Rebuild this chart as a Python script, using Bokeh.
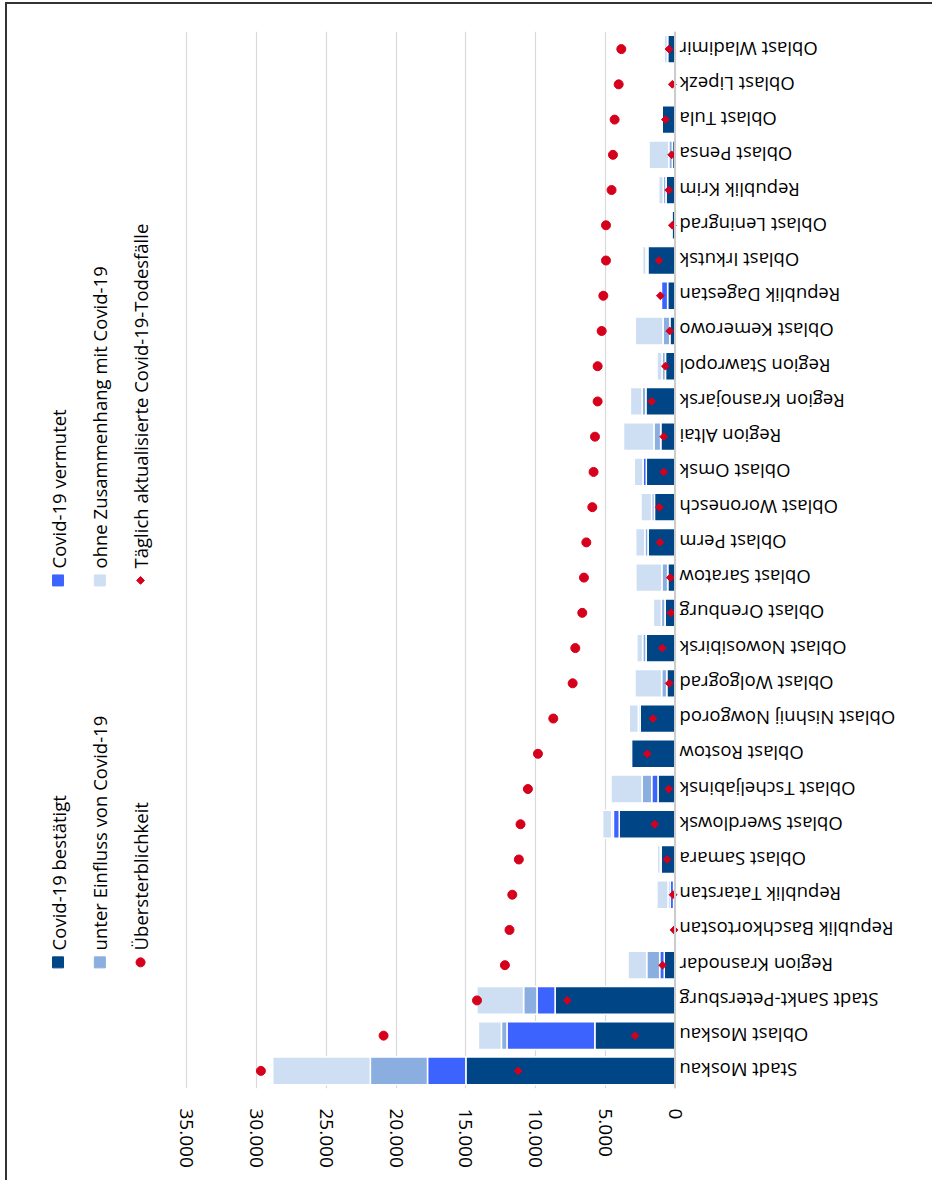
import math
from bokeh.plotting import figure
from bokeh.models import ColumnDataSource, Range1d, FixedTicker, Span
from bokeh.core.properties import value
from bokeh.embed import file_html
from bokeh.resources import INLINE

# ---- data (bottom row first) ----
regions = [
    "Stadt Moskau", "Oblast Moskau", "Stadt Sankt-Petersburg", "Region Krasnodar",
    "Republik Baschkortostan", "Republik Tatarstan", "Oblast Samara", "Oblast Swerdlowsk",
    "Oblast Tscheljabinsk", "Oblast Rostow", "Oblast Nishnij Nowgorod", "Oblast Wolgograd",
    "Oblast Nowosibirsk", "Oblast Orenburg", "Oblast Saratow", "Oblast Perm",
    "Oblast Woronesch", "Oblast Omsk", "Region Altai", "Region Krasnojarsk",
    "Region Stawropol", "Oblast Kemerowo", "Republik Dagestan", "Oblast Irkutsk",
    "Oblast Leningrad", "Republik Krim", "Oblast Pensa", "Oblast Tula",
    "Oblast Lipezk", "Oblast Wladimir",
]
confirmed = [15000, 5750, 8600, 770, 60, 100, 1000, 4000, 1220, 3130, 2510, 600, 2080, 720, 530,
             1940, 1480, 2060, 1030, 2100, 690, 380, 530, 1960, 240, 650, 190, 930, 140, 540]
suspected = [2750, 6300, 1300, 330, 0, 250, 0, 420, 450, 0, 0, 0, 0, 0, 0,
             0, 0, 240, 0, 0, 0, 0, 450, 0, 0, 0, 0, 0, 0, 0]
influenced = [4100, 400, 960, 930, 20, 150, 60, 120, 690, 0, 120, 360, 240, 260, 410,
              220, 200, 0, 480, 260, 240, 480, 0, 120, 0, 190, 260, 0, 0, 0]
unrelated = [7000, 1650, 3350, 1340, 90, 800, 210, 650, 2230, 120, 650, 1910, 420, 570, 1870,
             660, 760, 620, 2180, 840, 360, 1990, 0, 240, 0, 330, 1410, 0, 0, 240]
excess = [29700, 20900, 14200, 12200, 11870, 11670, 11200, 11080, 10550, 9830, 8730, 7340, 7150,
          6650, 6530, 6360, 5930, 5840, 5740, 5550, 5550, 5260, 5140, 4950, 4950, 4550, 4450,
          4330, 4040, 3850]
daily = [11250, 2870, 7730, 890, 70, 140, 570, 1460, 450, 1990, 1580, 410, 910, 290, 330,
         1080, 1120, 810, 810, 1670, 690, 380, 1050, 1150, 190, 450, 240, 690, 190, 430]

tick_values = [0, 5000, 10000, 15000, 20000, 25000, 30000, 35000]
tick_labels = ["0", "5.000", "10.000", "15.000", "20.000", "25.000", "30.000", "35.000"]

bar_series = ["Covid-19 bestätigt", "Covid-19 vermutet",
              "unter Einfluss von Covid-19", "ohne Zusammenhang mit Covid-19"]
dot_series = ["Übersterblichkeit", "Täglich aktualisierte Covid-19-Todesfälle"]

# ---- styling ----
bar_colors = ["#004687", "#3d63ff", "#8aaee0", "#cfdff3"]
red = "#d6001c"
FONT = "Open Sans"
FS = "18.5px"
TXT = "#000000"

src = ColumnDataSource(dict(
    y=list(range(len(regions))), region=regions,
    conf=confirmed, susp=suspected, infl=influenced, unrel=unrelated,
    excess=excess, daily=daily,
))

p = figure(width=927, height=1178,
           x_range=Range1d(47873, -18611), y_range=Range1d(-0.5, len(regions) - 0.5),
           y_axis_location=None, toolbar_location=None, output_backend="svg",
           min_border_left=0, min_border_right=0, min_border_top=27, min_border_bottom=94)
p.outline_line_color = None
p.background_fill_color = "white"
p.border_fill_color = "white"
p.styles = {"border-left": "2px solid #333333", "border-top": "2px solid #333333",
            "margin-left": "5px", "margin-top": "2px"}

# grid / axis
p.ygrid.grid_line_color = None
p.xgrid.grid_line_color = "#d9d9d9"
p.xgrid.grid_line_width = 1.2
ax = p.xaxis[0]
ax.ticker = FixedTicker(ticks=tick_values)
ax.major_label_overrides = {v: lab for v, lab in zip(tick_values, tick_labels)}
ax.major_label_orientation = "vertical"
ax.axis_line_color = None
ax.major_tick_line_color = None
ax.minor_tick_line_color = None
ax.major_tick_out = 0
ax.major_tick_in = 0
ax.major_label_standoff = 20
ax.major_label_text_font = FONT
ax.major_label_text_font_size = "19px"
ax.major_label_text_color = TXT

p.add_layout(Span(location=0, dimension="height", line_color="#cccccc", line_width=2))

# stacked bars
p.hbar_stack(["conf", "susp", "infl", "unrel"], y="y", height=0.79, color=bar_colors,
             line_color="white", line_width=1.5, source=src)

# markers
p.scatter(x="excess", y="y", size=9, marker="circle", color=red, source=src)
p.scatter(x="daily", y="y", size=5.5, marker="square", angle=math.pi / 4, color=red, source=src)

# category labels (upside down, right of zero line)
p.text(x=-320, y="y", text="region", angle=math.pi, text_align="right", text_baseline="middle",
       text_font=value(FONT), text_font_size=FS, text_color=TXT, source=src)

# legend (rotated)
col_x = [44250, 41250, 38330]
row_marker_y = [3.08, 13.92]
row_text_y = [3.42, 14.26]
leg_text = ColumnDataSource(dict(
    x=[col_x[0], col_x[0], col_x[1], col_x[1], col_x[2], col_x[2]],
    y=[row_text_y[0], row_text_y[1]] * 3,
    t=[bar_series[0], bar_series[1], bar_series[2], bar_series[3], dot_series[0], dot_series[1]],
))
p.text(x="x", y="y", text="t", angle=math.pi / 2, text_align="left", text_baseline="middle",
       text_font=value(FONT), text_font_size=FS, text_color=TXT, source=leg_text)

leg_sq = ColumnDataSource(dict(
    x=[col_x[0], col_x[0], col_x[1], col_x[1]],
    y=[row_marker_y[0], row_marker_y[1], row_marker_y[0], row_marker_y[1]],
    c=[bar_colors[0], bar_colors[1], bar_colors[2], bar_colors[3]],
))
p.scatter(x="x", y="y", marker="square", size=11, color="c", source=leg_sq)
p.scatter(x=[col_x[2]], y=[row_marker_y[0]], marker="circle", size=9, color=red)
p.scatter(x=[col_x[2]], y=[row_marker_y[1]], marker="square", angle=math.pi / 4, size=5.5, color=red)

open("out.html", "w").write(file_html(p, INLINE))
